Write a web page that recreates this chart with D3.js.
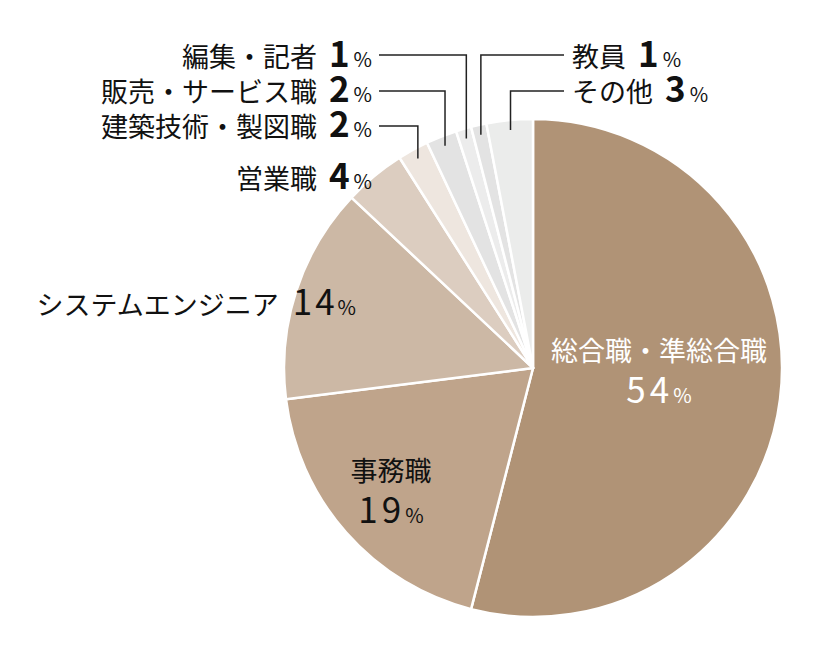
<!DOCTYPE html>
<html lang="ja">
<head>
<meta charset="utf-8">
<title>職種別割合</title>
<script src="https://d3js.org/d3.v7.min.js"></script>
<style>
  body { margin: 0; background: #fff; }
  svg text { font-family: "Noto Sans CJK JP", "Noto Sans", sans-serif; }
</style>
</head>
<body>
<div id="chart"></div>
<script>
// data, clockwise from 12 o'clock
var categories = ["総合職・準総合職", "事務職", "システムエンジニア", "営業職",
                  "建築技術・製図職", "販売・サービス職", "編集・記者", "教員", "その他"];
var values = [54, 19, 14, 4, 2, 2, 1, 1, 3];
var colors = ["#b09376", "#bfa48b", "#ccb8a5", "#dccdc0", "#eee6df",
              "#e3e3e3", "#ececec", "#e3e3e3", "#ebeceb"];

var width = 835, height = 646;
var cx = 533, cy = 368, R = 249;

var svg = d3.select("#chart").append("svg")
  .attr("width", width).attr("height", height);

var pie = d3.pie().sort(null).value(function(d) { return d; });
var arcs = pie(values);
var arc = d3.arc().innerRadius(0).outerRadius(R);
var leaderArc = d3.arc().innerRadius(R - 10).outerRadius(R - 10);

var g = svg.append("g").attr("transform", "translate(" + cx + "," + cy + ")");

g.selectAll("path")
  .data(arcs)
  .enter().append("path")
  .attr("d", arc)
  .attr("fill", function(d, i) { return colors[i]; })
  .attr("stroke", "#fff")
  .attr("stroke-width", 2.5)
  .attr("stroke-linejoin", "round");

// label layout (absolute page coords); inside = drawn on the slice
var layout = [
  {type: "inside", x: 659, y: 361, fill: "#fff"},
  {type: "inside", x: 391, y: 481, fill: "#111"},
  {type: "side", x: 356, y: 315, anchor: "end", bold: false},
  {type: "side", x: 372, y: 189, anchor: "end", bold: true},
  {type: "lead", x: 372, y: 137, anchor: "end", lineY: 126, lineX0: 379},
  {type: "lead", x: 372, y: 102, anchor: "end", lineY: 91, lineX0: 379},
  {type: "lead", x: 372, y: 67, anchor: "end", lineY: 55, lineX0: 379},
  {type: "lead", x: 572, y: 67, anchor: "start", lineY: 55, lineX0: 564},
  {type: "lead", x: 572, y: 102, anchor: "start", lineY: 91, lineX0: 564}
];

function addSideLabel(t, name, val, bold, fill) {
  t.append("tspan").attr("font-size", 27).attr("fill", fill).text(name);
  t.append("tspan").attr("font-size", 35).attr("fill", fill)
    .attr("dx", bold ? 12 : 14)
    .attr("font-weight", bold ? 700 : 400)
    .attr("letter-spacing", bold ? 0 : 3)
    .text(val);
  t.append("tspan").attr("font-size", 20).attr("fill", fill).attr("dx", bold ? 4 : 0).text("%");
}

arcs.forEach(function(a, i) {
  var L = layout[i];
  if (L.type === "inside") {
    svg.append("text")
      .attr("x", L.x).attr("y", L.y)
      .attr("text-anchor", "middle")
      .attr("font-size", 27).attr("fill", L.fill)
      .text(categories[i]);
    var t = svg.append("text")
      .attr("x", L.x).attr("y", L.y + 42)
      .attr("text-anchor", "middle").attr("fill", L.fill);
    t.append("tspan").attr("font-size", 35).attr("letter-spacing", 4).text(values[i]);
    t.append("tspan").attr("font-size", 20).text("%");
  } else {
    var t2 = svg.append("text")
      .attr("x", L.x).attr("y", L.y)
      .attr("text-anchor", L.anchor);
    addSideLabel(t2, categories[i], values[i], L.type === "lead" ? true : L.bold, "#111");
    if (L.type === "lead") {
      var c = leaderArc.centroid(a);
      var px = cx + c[0], py = cy + c[1];
      svg.append("path")
        .attr("d", "M" + L.lineX0 + "," + L.lineY + "H" + px + "V" + py)
        .attr("fill", "none")
        .attr("stroke", "#222")
        .attr("stroke-width", 1.5);
    }
  }
});
</script>
</body>
</html>
